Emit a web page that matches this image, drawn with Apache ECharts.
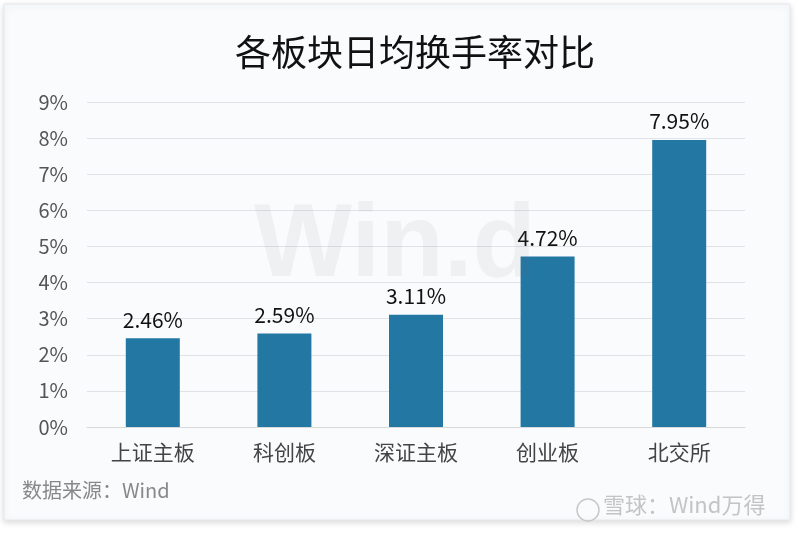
<!DOCTYPE html>
<html>
<head>
<meta charset="utf-8">
<script src="https://cdn.jsdelivr.net/npm/echarts@6/dist/echarts.min.js"></script>
<style>
  html, body { margin: 0; padding: 0; background: #ffffff; }
  #chart { width: 800px; height: 533px; }
</style>
</head>
<body>
<div id="chart"></div>
<script>
  var categories = ['上证主板', '科创板', '深证主板', '创业板', '北交所'];
  var turnover = [2.46, 2.59, 3.11, 4.72, 7.95];
  var yTicks = [0, 1, 2, 3, 4, 5, 6, 7, 8, 9];

  var font = '"Noto Sans CJK SC", "Noto Sans", sans-serif';
  var chart = echarts.init(document.getElementById('chart'));

  var option = {
    backgroundColor: '#ffffff',
    animation: false,
    title: {
      text: '各板块日均换手率对比',
      left: 230,
      top: 29,
      textStyle: { color: '#111', fontSize: 36, fontWeight: 'normal', fontFamily: font }
    },
    graphic: [
      {
        type: 'rect', z: -10, silent: true,
        shape: { x: 4, y: 4, width: 786, height: 516 },
        style: { fill: '#f9fbfd', stroke: '#e6e9ee', lineWidth: 1, shadowBlur: 6, shadowColor: 'rgba(0,0,0,0.15)', shadowOffsetY: 2 }
      },
      {
        type: 'text', left: 254, top: 195, z: 10, silent: true,
        style: { text: 'Win.d', fontSize: 104, fontWeight: 'bold', fontFamily: 'Arial, "Liberation Sans", sans-serif', fill: 'rgba(120,120,120,0.08)' }
      },
      {
        type: 'text', left: 22, top: 480, silent: true,
        style: { text: '数据来源：Wind', fontSize: 20, fontFamily: font, fill: '#888888' }
      },
      {
        type: 'circle', silent: true,
        shape: { cx: 588, cy: 510, r: 11 },
        style: { fill: 'none', stroke: '#c8c8c8', lineWidth: 1.5 }
      },
      {
        type: 'text', left: 603, top: 494, silent: true,
        style: { text: '雪球：Wind万得', fontSize: 22, fontFamily: font, fill: '#c4c4c4' }
      }
    ],
    grid: { left: 87, right: 55, top: 102, bottom: 106 },
    xAxis: {
      type: 'category',
      data: categories,
      axisLine: { lineStyle: { color: '#d9d9d9' } },
      axisTick: { show: false },
      axisLabel: { color: '#444', fontSize: 21, fontFamily: font, margin: 15 }
    },
    yAxis: {
      type: 'value',
      min: yTicks[0],
      max: yTicks[yTicks.length - 1],
      interval: 1,
      axisLine: { show: false },
      axisTick: { show: false },
      splitLine: { lineStyle: { color: '#dfe2e6' } },
      axisLabel: {
        color: '#555', fontSize: 20, fontFamily: font, margin: 19,
        formatter: function (v) { return v + '%'; }
      }
    },
    series: [{
      type: 'bar',
      data: turnover,
      barWidth: 54,
      itemStyle: { color: '#2277a3' },
      label: {
        show: true,
        position: 'top',
        distance: 8,
        color: '#111',
        fontSize: 21,
        fontFamily: font,
        formatter: function (p) { return p.value.toFixed(2) + '%'; }
      }
    }]
  };

  chart.setOption(option);
</script>
</body>
</html>
